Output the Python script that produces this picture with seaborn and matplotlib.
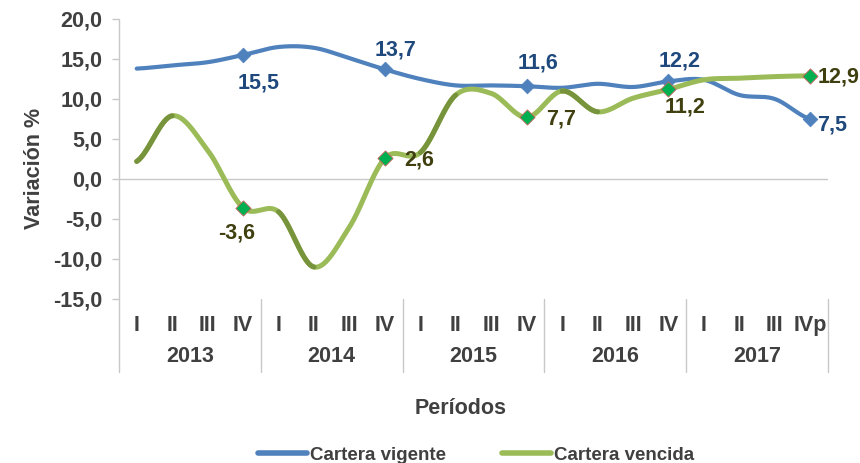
import numpy as np
import pandas as pd
import matplotlib
matplotlib.use("Agg")
import matplotlib.pyplot as plt
import seaborn as sns
from matplotlib.lines import Line2D
from matplotlib.transforms import blended_transform_factory

# ---------------- data ----------------
years = ["2013", "2014", "2015", "2016", "2017"]
quarters = ["I", "II", "III", "IV", "I", "II", "III", "IV", "I", "II", "III", "IV",
            "I", "II", "III", "IV", "I", "II", "III", "IVp"]
vigente = [13.8, 14.2, 14.6, 15.5, 16.5, 16.4, 15.1, 13.7, 12.5, 11.7, 11.7, 11.6,
           11.4, 11.9, 11.5, 12.2, 12.4, 10.5, 10.0, 7.5]
vencida = [2.2, 7.9, 3.6, -3.6, -4.1, -11.0, -6.0, 2.6, 3.3, 10.5, 10.7, 7.7,
           11.0, 8.4, 10.1, 11.2, 12.4, 12.6, 12.8, 12.9]
series_names = ["Cartera vigente", "Cartera vencida"]
labeled_idx = [3, 7, 11, 15, 19]
y_ticks = [-15, -10, -5, 0, 5, 10, 15, 20]

# ---------------- style ----------------
sns.set_style("white")
plt.rcParams["font.family"] = ["Liberation Sans", "DejaVu Sans"]
plt.rcParams["font.weight"] = "bold"
FS = 15.5
FS_LEG = 13.5
TXT = "#404040"
BLUE = "#4F81BD"
GREEN = "#9BBB59"
DGREEN = "#77933C"
BLUE_LBL = "#1F497D"
GREEN_LBL = "#3F3F10"
GRID = "#C8C8C8"

fig = plt.figure(figsize=(8.6, 4.63), dpi=100)
ax = fig.add_axes([119 / 860, 1 - 299 / 463, (828 - 119) / 860, 280 / 463])


def smooth(vals, n=40):
    """Catmull-Rom rendering of a line through the points (like Excel smoothed lines)."""
    v = np.asarray(vals, float)
    xs, ys, seg = [], [], []
    m = len(v)
    for i in range(m - 1):
        p0 = v[i - 1] if i > 0 else v[i]
        p1, p2 = v[i], v[i + 1]
        p3 = v[i + 2] if i + 2 < m else v[i + 1]
        t = np.linspace(0, 1, n)
        y = 0.5 * ((2 * p1) + (-p0 + p2) * t + (2 * p0 - 5 * p1 + 4 * p2 - p3) * t ** 2
                   + (-p0 + 3 * p1 - 3 * p2 + p3) * t ** 3)
        xs.extend(i + t)
        ys.extend(y)
        seg.extend([i] * n)
    return pd.DataFrame({"x": xs, "y": ys, "seg": seg})


sv = smooth(vigente)
sg = smooth(vencida)

sns.lineplot(data=sv, x="x", y="y", sort=False, estimator=None, color=BLUE, lw=3.0,
             ax=ax, solid_capstyle="round", zorder=3)
sns.lineplot(data=sg, x="x", y="y", sort=False, estimator=None, color=GREEN, lw=3.6,
             ax=ax, solid_capstyle="round", zorder=4)
for s in [0, 4, 8, 12]:
    part = sg[sg["seg"] == s]
    sns.lineplot(data=part, x="x", y="y", sort=False, estimator=None, color=DGREEN, lw=3.6,
                 ax=ax, solid_capstyle="round", zorder=4)

# markers at the labeled points
mk = pd.DataFrame({"x": labeled_idx,
                   "v": [vigente[i] for i in labeled_idx],
                   "g": [vencida[i] for i in labeled_idx]})
sns.scatterplot(data=mk, x="x", y="v", marker="D", s=55, color=BLUE, edgecolor=BLUE,
                ax=ax, zorder=5, legend=False)
sns.scatterplot(data=mk, x="x", y="g", marker="D", s=60, color="#00B050", edgecolor="#D06060",
                linewidth=0.6, ax=ax, zorder=6, legend=False)

# data labels (offsets in points)
blue_off = {3: (11, -20, "center", "center"), 7: (8, 14, "center", "center"),
            11: (8, 17, "center", "center"), 15: (8, 15, "center", "center"),
            19: (5, -4, "left", "center")}
green_off = {3: (-5, -18, "center", "center"), 7: (14, -1, "left", "center"),
             11: (14, -1, "left", "center"), 15: (12, -13, "center", "center"),
             19: (5, -1, "left", "center")}
for i in labeled_idx:
    dx, dy, ha, va = blue_off[i]
    ax.annotate(f"{vigente[i]:.1f}".replace(".", ","), (i, vigente[i]), xytext=(dx, dy),
                textcoords="offset points", ha=ha, va=va, fontsize=FS, fontweight="bold",
                color=BLUE_LBL, zorder=7)
    dx, dy, ha, va = green_off[i]
    ax.annotate(f"{vencida[i]:.1f}".replace(".", ","), (i, vencida[i]), xytext=(dx, dy),
                textcoords="offset points", ha=ha, va=va, fontsize=FS, fontweight="bold",
                color=GREEN_LBL, zorder=7)

# axes
ax.set_xlim(-0.5, len(quarters) - 0.5)
ax.set_ylim(-15, 20)
ax.set_yticks(y_ticks)
ax.set_yticklabels([f"{t:.1f}".replace(".", ",") for t in y_ticks], fontsize=FS,
                   fontweight="bold", color=TXT)
ax.tick_params(axis="y", direction="out", length=5, width=1, color=GRID, pad=7, left=True)
ax.set_xticks([])
ax.set_xlabel("")
for side in ["top", "right", "bottom", "left"]:
    ax.spines[side].set_visible(False)
ax.axhline(0, color=GRID, lw=1, zorder=1)
ax.set_ylabel("Variación %", fontsize=FS, fontweight="bold", color=TXT)
ax.yaxis.set_label_coords((45 - 119) / 709, (299 - 168) / 280)

# category axis with year grouping
tr = blended_transform_factory(ax.transData, ax.transAxes)
for i, q in enumerate(quarters):
    ax.text(i, -0.096, q, transform=tr, ha="center", va="center", fontsize=FS,
            fontweight="bold", color=TXT, clip_on=False)
for k, yr in enumerate(years):
    ax.text(4 * k + 1.5, -0.207, yr, transform=tr, ha="center", va="center", fontsize=FS,
            fontweight="bold", color=TXT, clip_on=False)
for b in range(len(years) + 1):
    xb = 4 * b - 0.5
    y_top = 1.0 if b == 0 else 0.0
    ax.plot([xb, xb], [y_top, -0.26], transform=tr, color=GRID, lw=1, clip_on=False, zorder=1)

fig.text(461 / 860, 1 - 408 / 463, "Períodos", ha="center", va="center", fontsize=FS,
         fontweight="bold", color=TXT)

handles = [Line2D([0], [0], color=BLUE, lw=4), Line2D([0], [0], color=GREEN, lw=4)]
fig.legend(handles, series_names, loc="center", bbox_to_anchor=(476 / 860, 1 - 455 / 463),
           ncol=2, frameon=False, handlelength=2.6, handletextpad=0.15, columnspacing=3.0,
           prop={"size": FS_LEG, "weight": "bold"}, labelcolor=TXT)

fig.savefig("out.png", dpi=100, facecolor="white")
